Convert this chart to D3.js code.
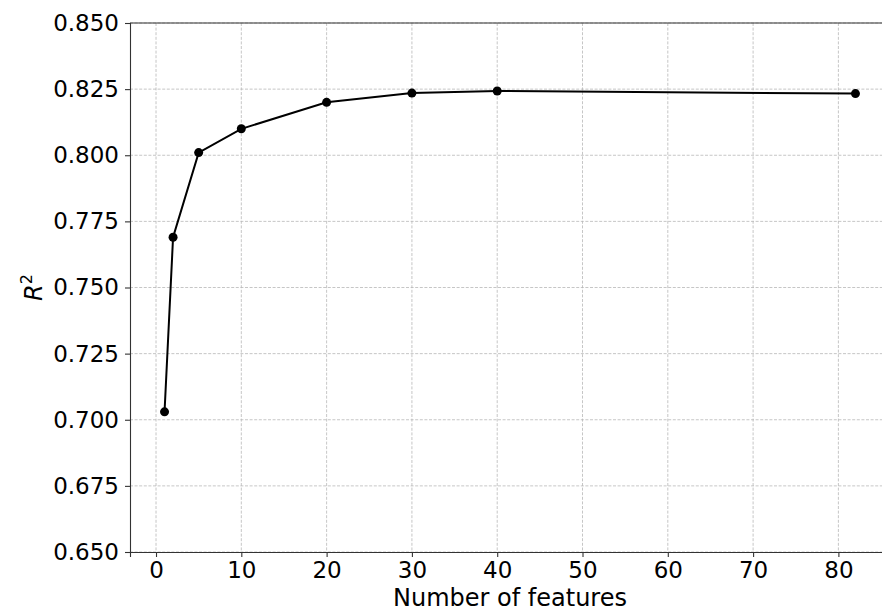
<!DOCTYPE html>
<html>
<head>
<meta charset="utf-8">
<script src="https://cdn.jsdelivr.net/npm/d3@7"></script>
<style>
  body { margin: 0; background: #fff; }
  svg { display: block; font-family: "DejaVu Sans", sans-serif; }
</style>
</head>
<body>
<div id="chart"></div>
<script>
// data
const features = [1, 2, 5, 10, 20, 30, 40, 82];
const r2 = [0.703, 0.769, 0.801, 0.810, 0.820, 0.8235, 0.8243, 0.8233];
const xTicks = [0, 10, 20, 30, 40, 50, 60, 70, 80];
const yTicks = [0.650, 0.675, 0.700, 0.725, 0.750, 0.775, 0.800, 0.825, 0.850];

const W = 882, H = 612;
const mLeft = 130, mTop = 23, mRight = 890, mBottom = 552;

const svg = d3.select("#chart").append("svg")
  .attr("width", W)
  .attr("height", H);

// x scale with matplotlib-like 5% margins
const xScale = d3.scaleLinear()
  .domain([-3.05, 86.05])
  .range([mLeft, mRight]);

const yScale = d3.scaleLinear()
  .domain([0.650, 0.850])
  .range([mBottom, mTop]);

// grid
const grid = svg.append("g")
  .attr("stroke", "#b8b8b8")
  .attr("stroke-width", 0.8)
  .attr("stroke-dasharray", "3,1.6");

grid.selectAll("line.gx")
  .data(xTicks)
  .enter()
  .append("line")
  .attr("x1", d => xScale(d))
  .attr("x2", d => xScale(d))
  .attr("y1", mTop)
  .attr("y2", mBottom);

grid.selectAll("line.gy")
  .data(yTicks)
  .enter()
  .append("line")
  .attr("x1", mLeft)
  .attr("x2", mRight)
  .attr("y1", d => yScale(d))
  .attr("y2", d => yScale(d));

// axes
const xAxis = svg.append("g")
  .attr("transform", "translate(0," + mBottom + ")")
  .call(d3.axisBottom(xScale).tickValues(xTicks).tickSize(5).tickPadding(5).tickFormat(d3.format("d")));

const yAxis = svg.append("g")
  .attr("transform", "translate(" + mLeft + ",0)")
  .call(d3.axisLeft(yScale).tickValues(yTicks).tickSize(5).tickPadding(6).tickFormat(d3.format(".3f")));

[xAxis, yAxis].forEach(a => {
  a.select(".domain").attr("stroke", "#333").attr("stroke-width", 1.1);
  a.selectAll(".tick line").attr("stroke", "#333").attr("stroke-width", 1.1);
  a.selectAll(".tick text")
    .attr("fill", "#000")
    .style("font-size", "23px")
    .style("font-family", "DejaVu Sans, sans-serif");
});

// top spine
svg.append("line")
  .attr("x1", mLeft)
  .attr("x2", mRight)
  .attr("y1", mTop)
  .attr("y2", mTop)
  .attr("stroke", "#333")
  .attr("stroke-width", 1.1);

// line + markers
const pts = features.map((f, i) => ({ x: f, y: r2[i] }));

svg.append("path")
  .datum(pts)
  .attr("fill", "none")
  .attr("stroke", "#000")
  .attr("stroke-width", 2)
  .attr("d", d3.line().x(d => xScale(d.x)).y(d => yScale(d.y)));

svg.selectAll("circle.pt")
  .data(pts)
  .enter()
  .append("circle")
  .attr("cx", d => xScale(d.x))
  .attr("cy", d => yScale(d.y))
  .attr("r", 4.5)
  .attr("fill", "#000");

// axis labels
svg.append("text")
  .attr("x", 510)
  .attr("y", 606)
  .attr("text-anchor", "middle")
  .style("font-size", "24px")
  .text("Number of features");

const yl = svg.append("text")
  .attr("transform", "translate(42," + ((mTop + mBottom) / 2) + ") rotate(-90)")
  .attr("text-anchor", "middle")
  .style("font-size", "24px");
yl.append("tspan").style("font-style", "italic").text("R");
yl.append("tspan").attr("dy", -10).style("font-size", "16px").text("2");
</script>
</body>
</html>
